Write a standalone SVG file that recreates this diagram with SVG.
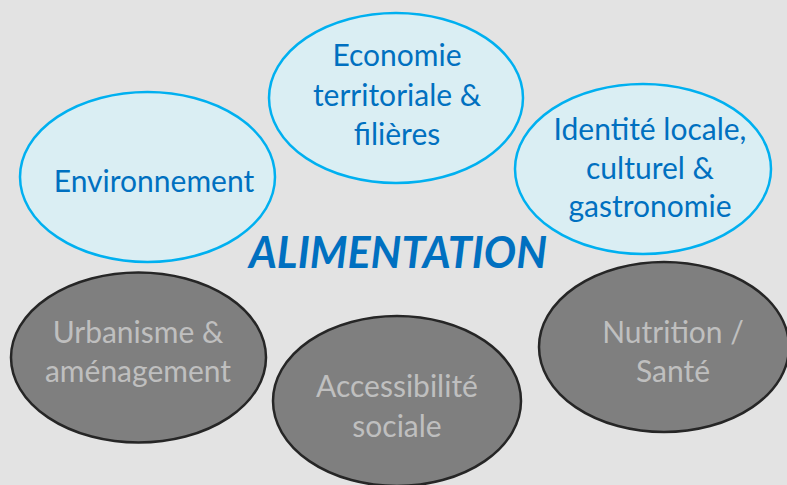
<svg xmlns="http://www.w3.org/2000/svg" width="787" height="485" viewBox="0 0 787 485">
<style>
.blue ellipse{fill:#DAEEF3;stroke:#00B0F0;stroke-width:2.5}
.grey ellipse{fill:#7F7F7F;stroke:#262626;stroke-width:2.5}
text{font-family:Lato,"Open Sans",sans-serif;font-size:30px;text-anchor:middle}
.blue text{fill:#0070C0}
.grey text{fill:#BFBFBF}
.title{font-weight:bold;font-style:italic;font-size:43px;fill:#0070C0}
</style>
<rect width="787" height="485" fill="#E3E3E3"/>
<g id="connectors"/>
<g id="economie" class="blue">
<ellipse cx="396" cy="98" rx="127" ry="85"/>
<text x="397" y="66">Economie</text>
<text x="397" y="106">territoriale &amp;</text>
<text x="397" y="145">filières</text>
</g>
<g id="environnement" class="blue">
<ellipse cx="147.5" cy="177" rx="127.5" ry="85"/>
<text x="154" y="192">Environnement</text>
</g>
<g id="identite" class="blue">
<ellipse cx="643" cy="169" rx="128" ry="85"/>
<text x="650" y="140">Identité locale,</text>
<text x="650" y="179">culturel &amp;</text>
<text x="650" y="217">gastronomie</text>
</g>
<g id="urbanisme" class="grey">
<ellipse cx="138.5" cy="357.5" rx="127.5" ry="85"/>
<text x="138" y="343">Urbanisme &amp;</text>
<text x="138" y="382">aménagement</text>
</g>
<g id="accessibilite" class="grey">
<ellipse cx="397" cy="401" rx="124" ry="85"/>
<text x="397" y="397">Accessibilité</text>
<text x="397" y="437">sociale</text>
</g>
<g id="nutrition" class="grey">
<ellipse cx="664" cy="347" rx="125" ry="85"/>
<text x="673" y="343">Nutrition /</text>
<text x="673" y="382">Santé</text>
</g>
<g id="alimentation">
<text class="title" x="398" y="268">ALIMENTATION</text>
</g>
</svg>
